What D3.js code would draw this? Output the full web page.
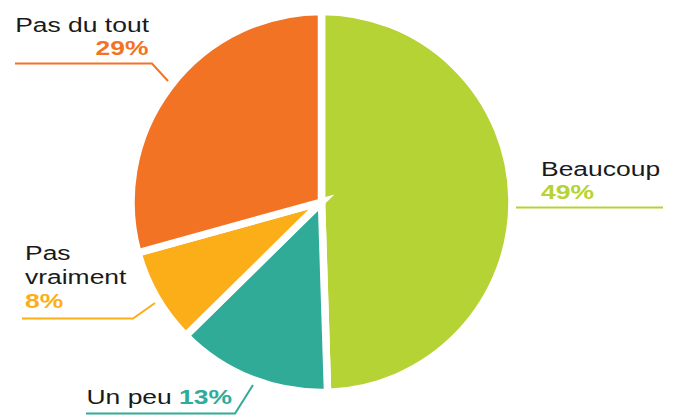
<!DOCTYPE html>
<html>
<head>
<meta charset="utf-8">
<script src="https://cdn.jsdelivr.net/npm/d3@7"></script>
<style>
  body { margin: 0; background: #fff; }
  text { font-family: "Liberation Sans", Arial, sans-serif; }
</style>
</head>
<body>
<script>
const width = 681;
const height = 415;

// data
const categories = ["Beaucoup", "Un peu", "Pas vraiment", "Pas du tout"];
const shares = [49, 13, 8, 29];
const shareLabels = ["49%", "13%", "8%", "29%"];
const palette = ["#b5d334", "#30ab97", "#fcae19", "#f37325"];

// where each label sits (annotation layout, not data)
const layout = [
  { lines: [{ t: "Beaucoup", x: 541, y: 176, a: "start" }],
    pct: { x: 541, y: 198.5, a: "start" },
    leader: [[516, 207.5], [663, 207.5]] },
  { lines: [{ t: "Un peu", x: 86.5, y: 403.5, a: "start" }],
    pct: { x: 179, y: 403.5, a: "start" },
    leader: [[86, 413.5], [235, 413.5], [253, 385]] },
  { lines: [{ t: "Pas", x: 25, y: 260, a: "start" }, { t: "vraiment", x: 25, y: 283.5, a: "start" }],
    pct: { x: 25, y: 307.5, a: "start" },
    leader: [[22, 318.5], [133, 318.5], [155, 303]] },
  { lines: [{ t: "Pas du tout", x: 149, y: 31.5, a: "end" }],
    pct: { x: 148.5, y: 55, a: "end" },
    leader: [[15, 63.5], [152, 63.5], [168, 81]] }
];

const cx = 321.5, cy = 202, radius = 190.5, gap = 7.5;
const stretch = 1.26;

const svg = d3.select("body").append("svg")
  .attr("width", width)
  .attr("height", height);

const pie = d3.pie().sort(null).value(d => d);
const arc = d3.arc().innerRadius(0).outerRadius(radius);

const slices = pie(shares);

svg.append("g")
  .attr("transform", `translate(${cx},${cy})`)
  .selectAll("path")
  .data(slices)
  .join("path")
  .attr("d", arc)
  .attr("fill", (d, i) => palette[i])
  .attr("stroke", "#fff")
  .attr("stroke-width", gap)
  .attr("stroke-linejoin", "miter");

const line = d3.line();

layout.forEach((l, i) => {
  svg.append("path")
    .attr("d", line(l.leader))
    .attr("fill", "none")
    .attr("stroke", palette[i])
    .attr("stroke-width", 2);

  l.lines.forEach(ln => {
    svg.append("g")
      .attr("transform", `translate(${ln.x},${ln.y}) scale(${stretch},1)`)
      .append("text")
      .attr("text-anchor", ln.a)
      .attr("font-size", 21)
      .attr("fill", "#1a1a1a")
      .text(ln.t);
  });

  svg.append("g")
    .attr("transform", `translate(${l.pct.x},${l.pct.y}) scale(${stretch},1)`)
    .append("text")
    .attr("text-anchor", l.pct.a)
    .attr("font-size", 21)
    .attr("font-weight", "bold")
    .attr("fill", palette[i])
    .text(shareLabels[i]);
});
</script>
</body>
</html>
